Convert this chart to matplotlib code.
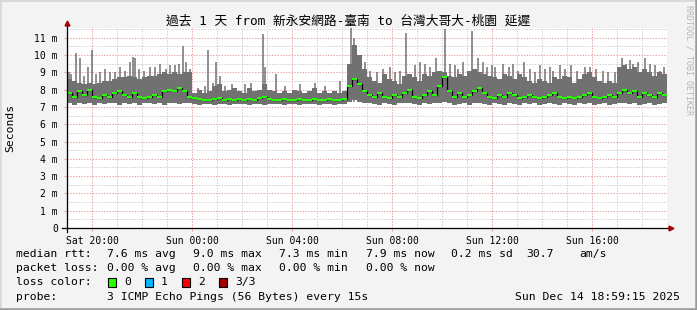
"""SmokePing 風 1 日レイテンシグラフ（新永安網路-臺南 → 台灣大哥大-桃園）."""

import matplotlib
matplotlib.use("Agg")
import matplotlib.pyplot as plt
import numpy as np
from matplotlib.patches import Rectangle

W, H = 697, 310
MONO = ["DejaVu Sans Mono", "Noto Sans CJK TC"]

# ── データ（12 分ごとの列、hour 0 = Sat 19:00）──────────────────────────────
rtt_max = [
    8.6, 8.5, 8.4, 8.3, 8.4, 8.3, 8.4, 8.5, 8.5, 8.6, 8.7, 8.7, 8.8, 8.7, 8.6,
    8.7, 8.8, 8.8, 8.9, 9.0, 8.9, 9.0, 8.9, 9.0, 9.0,
    7.8, 8.0, 7.8, 7.9, 8.2, 8.3, 7.9, 8.0, 8.1, 7.9, 7.8, 8.1, 7.9, 8.0, 8.3,
    8.0, 7.9, 7.8, 7.9, 7.8, 8.0, 7.9, 7.8, 7.9, 8.1, 7.8, 7.9, 7.8, 7.9, 7.8,
    7.9,
    9.5, 10.6, 10.0, 9.2, 8.7, 8.5, 8.4, 8.9, 8.6, 8.5, 8.3, 8.8, 8.9, 8.7, 8.5,
    8.9, 8.8, 9.0, 9.1, 9.0, 8.8, 8.7, 8.9, 8.8, 9.1, 9.2, 9.0, 8.9, 8.8, 8.7,
    8.6, 8.9, 8.8, 8.6, 8.9, 8.7, 8.5, 8.4, 8.6, 8.5, 8.4, 8.7, 8.6, 8.8, 8.7,
    8.4, 8.6, 8.9, 9.0, 8.7, 8.5, 8.4, 8.5, 8.4, 9.3, 9.4, 9.2, 9.3, 9.0, 9.2,
    9.0, 8.8, 9.0, 8.9,
]
rtt_min = [
    7.2, 7.1, 7.2, 7.15, 7.2, 7.1, 7.2, 7.15, 7.2, 7.2, 7.1, 7.2, 7.15, 7.2,
    7.1, 7.2, 7.2, 7.15, 7.2, 7.1, 7.2, 7.2, 7.15, 7.2, 7.2,
    7.15, 7.1, 7.15, 7.15, 7.1, 7.15, 7.15, 7.1, 7.15, 7.15, 7.15, 7.1, 7.15,
    7.15, 7.1, 7.15, 7.15, 7.15, 7.1, 7.15, 7.15, 7.1, 7.15, 7.15, 7.15, 7.1,
    7.15, 7.15, 7.1, 7.15, 7.15,
    7.3, 7.4, 7.3, 7.2, 7.2, 7.15, 7.1, 7.2, 7.15, 7.1,
    7.2, 7.2, 7.25, 7.15, 7.1, 7.2, 7.15, 7.2, 7.25, 7.3,
    7.2, 7.1, 7.15, 7.2, 7.1, 7.2, 7.2, 7.15, 7.1, 7.2,
    7.15, 7.1, 7.2, 7.15, 7.1, 7.2, 7.15, 7.2, 7.1, 7.15,
    7.2, 7.15, 7.1, 7.2, 7.15, 7.1, 7.2, 7.15, 7.2, 7.1,
    7.15, 7.2, 7.1, 7.15, 7.2, 7.25, 7.15, 7.2, 7.1, 7.15,
    7.2, 7.1, 7.15, 7.2,
]
rtt_med = [
    7.8, 7.6, 7.9, 7.7, 8.0, 7.6, 7.5, 7.7, 7.6, 7.8, 7.9, 7.7, 7.6, 7.8, 7.6,
    7.5, 7.6, 7.7, 7.6, 7.9, 8.0, 7.9, 8.1, 7.9, 7.6,
    7.5, 7.45, 7.4, 7.4, 7.45, 7.5, 7.4, 7.45, 7.4, 7.45, 7.4, 7.45, 7.4, 7.5,
    7.6, 7.45, 7.4, 7.4, 7.45, 7.4, 7.4, 7.45, 7.4, 7.4, 7.45, 7.4, 7.4, 7.45,
    7.4, 7.4, 7.45,
    8.2, 8.6, 8.3, 7.9, 7.7, 7.6, 7.8, 7.6, 7.5, 7.7, 7.6, 7.8, 8.0, 7.6, 7.5,
    7.7, 7.9, 7.7, 8.2, 8.7, 7.9, 7.6, 7.8, 7.6, 7.7, 7.9, 8.1, 7.8, 7.6, 7.5,
    7.7, 7.6, 7.8, 7.7, 7.5, 7.6, 7.7, 7.6, 7.5, 7.6, 7.7, 7.8, 7.6, 7.5, 7.6,
    7.5, 7.6, 7.7, 7.8, 7.6, 7.5, 7.6, 7.7, 7.6, 7.8, 8.0, 7.8, 7.9, 7.6, 7.8,
    7.7, 7.6, 7.8, 7.7,
]
# 細いスパイク（時刻 [h], 最大 RTT [ms]）
spike_hours = [
    0.08, 0.16, 0.36, 0.52, 0.68, 0.84, 0.98, 1.16, 1.32, 1.52, 1.72, 1.92,
    2.12, 2.32, 2.52, 2.64, 2.72, 2.88, 3.08, 3.32, 3.52, 3.72, 3.96, 4.12,
    4.32, 4.48, 4.64, 4.76, 4.92,
    5.24, 5.52, 5.64, 5.84, 5.96, 6.12, 6.32, 6.60, 7.12, 7.36, 7.84, 7.92,
    8.36, 8.72, 9.32, 9.92, 10.32, 10.92,
    11.36, 11.48, 11.92, 12.12, 12.40, 12.64, 12.92, 13.12, 13.32, 13.56,
    13.92, 14.12, 14.32, 14.52, 14.76, 15.12, 15.32, 15.52, 15.64, 15.84,
    16.20, 16.44, 16.64, 16.80, 17.00, 17.12, 17.44, 17.68, 17.84, 18.04,
    18.28, 18.52, 18.72, 18.92, 19.12, 19.32, 19.44, 19.72, 19.92, 20.16,
    20.40, 20.72, 20.92, 21.16, 21.44, 21.64, 21.92, 22.20, 22.36, 22.52,
    22.64, 22.84, 23.12, 23.32, 23.52, 23.72, 23.88,
]
spike_vals = [
    9.0, 8.9, 10.1, 9.8, 8.8, 9.3, 10.3, 8.9, 9.0, 9.2, 9.0, 9.0,
    9.3, 9.1, 9.6, 9.9, 9.8, 9.2, 9.1, 9.3, 9.3, 9.5, 9.2, 9.4,
    9.4, 9.5, 10.5, 9.6, 9.2,
    8.1, 8.2, 10.3, 8.4, 9.6, 8.8, 8.2, 8.3, 8.3, 8.4, 11.2, 9.3,
    8.9, 8.2, 8.3, 8.4, 8.2, 8.5,
    11.7, 11.0, 9.6, 9.1, 9.0, 9.2, 9.3, 9.0, 9.1, 11.3,
    9.4, 9.6, 9.5, 9.3, 9.8, 11.5, 9.5, 9.4, 9.2, 9.6,
    11.4, 9.8, 9.6, 9.3, 9.4, 9.3, 9.5, 9.3, 9.5, 9.1,
    9.6, 9.2, 9.0, 9.4, 9.2, 9.3, 9.1, 9.4, 9.2, 9.4,
    9.1, 9.3, 9.3, 9.2, 9.1, 9.0, 9.0, 9.8, 9.5, 9.7,
    9.5, 9.6, 9.8, 9.5, 9.4, 9.1, 9.3,
]

tick_hours = [1, 5, 9, 13, 17, 21]
tick_labels = ["Sat 20:00", "Sun 00:00", "Sun 04:00", "Sun 08:00",
               "Sun 12:00", "Sun 16:00"]
ytick_vals = list(range(12))
ytick_labels = ["0"] + [f"{v} m" for v in range(1, 12)]

title = "過去 1 天 from 新永安網路-臺南 to 台灣大哥大-桃園 延遲"
loss_colors = ["#26ff00", "#00b8ff", "#ff0000", "#a00000"]
loss_names = ["0", "1", "2", "3/3"]

SMOKE = "#717171"
GREEN = "#26ff00"
MINOR = "#cfcfcf"
MAJOR = "#e6a3a3"
ARROW = "#a00000"


def fx(x):
    return x / W


def fy(y):
    return 1 - y / H


fig = plt.figure(figsize=(W / 100, H / 100), dpi=100)
fig.patch.set_facecolor("#f3f3f3")

ax = fig.add_axes([fx(67), fy(228), 600 / W, 200 / H])
ax.set_facecolor("white")
ax.set_xlim(0, 24)
ax.set_ylim(0, 200 / 17.3)

# グリッド（点線）
dots = (0, (1.4, 1.4))
for v in np.arange(0.5, 11.6, 1.0):
    ax.axhline(v, color=MINOR, lw=0.72, ls=dots, zorder=0)
for v in range(1, 12):
    ax.axhline(v, color=MAJOR, lw=0.72, ls=dots, zorder=0)
for h in range(1, 24):
    ax.axvline(h, color=MAJOR if h in tick_hours else MINOR,
               lw=0.72, ls=dots, zorder=0)

# スモーク + スパイク
n = len(rtt_max)
edges = np.arange(n + 1) * 0.2
ax.fill_between(edges, rtt_min + rtt_min[-1:], rtt_max + rtt_max[-1:],
                step="post", color=SMOKE, lw=0, zorder=2)
ax.vlines(spike_hours, 7.3, spike_vals, color=SMOKE, lw=1.1, zorder=2)

# median（黒の段差 + 緑の水平線）
ax.step(edges, rtt_med + rtt_med[-1:], where="post", color="black",
        lw=0.9, zorder=3)
ax.hlines(rtt_med, edges[:-1], edges[1:], color=GREEN, lw=1.5, zorder=4)

for s in ax.spines.values():
    s.set_visible(False)

# 軸線と矢印
ax.plot([-5 / 600, 1.003], [0, 0], transform=ax.transAxes, color="black",
        lw=0.9, clip_on=False, zorder=5)
ax.plot([0, 0], [-4 / 200, 1.02], transform=ax.transAxes, color="black",
        lw=0.9, clip_on=False, zorder=5)
ax.plot([1.006], [0], marker=">", ms=3.5, color=ARROW, mec=ARROW,
        transform=ax.transAxes, clip_on=False, zorder=6)
ax.plot([0], [1.025], marker="^", ms=3.5, color=ARROW, mec=ARROW,
        transform=ax.transAxes, clip_on=False, zorder=6)

ax.set_xticks(tick_hours)
ax.set_xticklabels(tick_labels, family=MONO, fontsize=7)
ax.set_yticks(ytick_vals)
ax.set_yticklabels(ytick_labels, family=MONO, fontsize=7)
ax.tick_params(axis="x", length=2, color=MAJOR, pad=3.5)
ax.tick_params(axis="y", length=2, color=MAJOR, pad=4.5)

# タイトル・軸ラベル・透かし
fig.text(fx(348), fy(21), title, family=MONO, fontsize=9.2,
         ha="center", va="center")
fig.text(fx(10), fy(128), "Seconds", family=MONO, fontsize=8.2,
         rotation=90, ha="center", va="center")
fig.text(fx(689), fy(60), "RRDTOOL / TOBI OETIKER", family=MONO, fontsize=6,
         color="#b4b4b4", rotation=270, ha="center", va="center")

# 凡例
def legend_row(y, items):
    for x, s in items:
        fig.text(fx(x), fy(y), s, family=MONO, fontsize=8.2,
                 ha="left", va="center")


legend_row(254, [(16, "median rtt:"), (107.3, "7.6 ms avg"),
                 (193.3, "9.0 ms max"), (279.3, "7.3 ms min"),
                 (365.7, "7.9 ms now"), (451, "0.2 ms sd"),
                 (526.7, "30.7"), (579.3, "am/s")])
legend_row(268, [(16, "packet loss:"), (107.3, "0.00 % avg"),
                 (193.3, "0.00 % max"), (279.3, "0.00 % min"),
                 (365.7, "0.00 % now")])
legend_row(282, [(16, "loss color:")])
for i, (c, name) in enumerate(zip(loss_colors, loss_names)):
    x0 = 108.3 + 37 * i
    fig.add_artist(Rectangle((fx(x0), fy(286.5)), 7.5 / W, 8.5 / H,
                             facecolor=c, edgecolor="black", lw=0.8,
                             transform=fig.transFigure))
    fig.text(fx(x0 + 15.5), fy(282), name, family=MONO, fontsize=8.2,
             ha="left", va="center")
legend_row(296.7, [(16, "probe:"),
                   (107.3, "3 ICMP Echo Pings (56 Bytes) every 15s")])
fig.text(fx(680), fy(296.7), "Sun Dec 14 18:59:15 2025", family=MONO,
         fontsize=8.2, ha="right", va="center")

# 外枠（上左は明るく、下右は暗く）
fig.add_artist(plt.Line2D([0, 1], [fy(0.5), fy(0.5)], color="#d6d6d6",
                          lw=1.2, transform=fig.transFigure))
fig.add_artist(plt.Line2D([fx(0.5), fx(0.5)], [0, 1], color="#d6d6d6",
                          lw=1.2, transform=fig.transFigure))
fig.add_artist(plt.Line2D([0, 1], [fy(309), fy(309)], color="#9a9a9a",
                          lw=1.8, transform=fig.transFigure))
fig.add_artist(plt.Line2D([fx(696), fx(696)], [0, 1], color="#9a9a9a",
                          lw=1.8, transform=fig.transFigure))

fig.savefig("out.png", dpi=100, facecolor=fig.get_facecolor())
